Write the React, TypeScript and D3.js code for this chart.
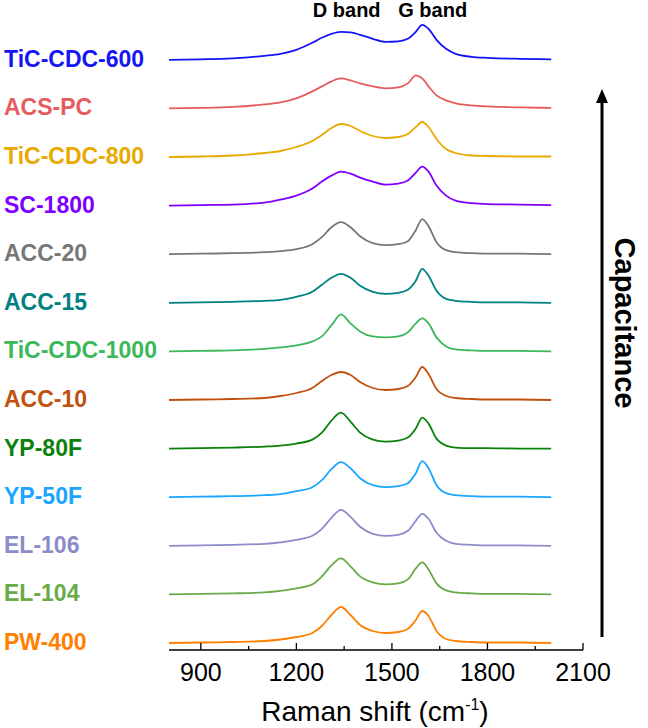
import React, { useRef, useEffect } from 'react';
import * as d3 from 'd3';

// Raman shift grid (cm-1) shared by all spectra
const shifts = [800, 900, 1000, 1100, 1150, 1200, 1250, 1280, 1310, 1340, 1370, 1400, 1440, 1480, 1520, 1550, 1575, 1595, 1615, 1640, 1670, 1700, 1750, 1800, 1900, 2000];

// samples listed top to bottom as in the figure
const samples = ['TiC-CDC-600', 'ACS-PC', 'TiC-CDC-800', 'SC-1800', 'ACC-20', 'ACC-15', 'TiC-CDC-1000', 'ACC-10', 'YP-80F', 'YP-50F', 'EL-106', 'EL-104', 'PW-400'];
const colors = ['#1414f5', '#e65c5c', '#e8a900', '#8000ff', '#777777', '#008080', '#3cb85a', '#c0500c', '#0a820a', '#1aa6ff', '#8c8cc8', '#68ab48', '#ff8000'];

// intensities (a.u.), one array per sample
const tic600 = [0, 0.5, 1.5, 4, 6, 10, 17, 22, 26, 28, 27.5, 25, 21, 18, 18.5, 21, 28, 35, 31, 20, 11, 6, 3, 2, 1, 0.5];
const acsPC = [0, 0.5, 1.5, 4, 6, 10, 17, 22, 27, 30, 28, 25, 22, 20, 21, 25, 33, 30, 22, 13, 8, 5, 3, 2, 1, 0.5];
const tic800 = [0, 0.5, 1.5, 4, 6, 10, 16, 22, 29, 33, 31, 26, 21, 19, 20, 23, 30, 35, 30, 18, 8, 4, 1.5, 1, 0.5, 0.5];
const sc1800 = [0, 0.5, 1, 3, 6, 10, 17, 24, 30, 34, 32, 28, 24, 21, 22, 25, 33, 39, 34, 20, 10, 5, 2.5, 1.5, 1, 0.5];
const acc20 = [0, 0.5, 1, 2, 3, 5, 10, 17, 27, 32, 27, 18, 11, 9, 10, 13, 24, 35, 28, 12, 4, 2, 1, 0.5, 0.5, 0];
const acc15 = [0, 0.5, 1, 2, 3, 6, 11, 18, 25, 29, 25, 17, 11, 9, 10, 13, 22, 34, 27, 12, 4, 2, 1, 0.5, 0.5, 0];
const tic1000 = [0, 0.5, 1, 2.5, 4, 6, 10, 15, 26, 37, 28, 20, 15, 14, 15, 19, 28, 33, 28, 14, 5, 2, 1, 0.5, 0.5, 0];
const acc10 = [0, 0.5, 1, 2, 4, 7, 12, 19, 25, 28, 25, 18, 12, 10, 11, 14, 23, 33, 26, 11, 4, 2, 1, 0.5, 0.5, 0];
const yp80f = [0, 0.5, 1, 2, 3, 5, 9, 16, 28, 36, 27, 16, 9, 7, 8, 11, 20, 31, 25, 10, 3, 1, 0.5, 0.5, 0, 0];
const yp50f = [0, 0.5, 1, 2, 3, 6, 10, 17, 28, 35, 29, 19, 12, 10, 11, 14, 24, 36, 29, 12, 4, 2, 1, 0.5, 0.5, 0];
const el106 = [0, 0.5, 1, 2, 3.5, 6, 10, 17, 28, 36, 29, 19, 12, 10, 11, 15, 25, 32, 27, 13, 5, 2, 1, 0.5, 0.5, 0];
const el104 = [0, 0.5, 1, 2, 3.5, 6, 10, 18, 29, 36, 28, 18, 12, 10, 11, 15, 26, 32, 25, 11, 4, 2, 1, 0.5, 0.5, 0];
const pw400 = [0, 0.5, 1, 2, 3.5, 6, 10, 17, 28, 36, 28, 18, 12, 10, 11, 14, 23, 32, 27, 12, 4, 2, 1, 0.5, 0.5, 0];
const spectra = [tic600, acsPC, tic800, sc1800, acc20, acc15, tic1000, acc10, yp80f, yp50f, el106, el104, pw400];

const majorTicks = [900, 1200, 1500, 1800, 2100];
const minorTicks = [1050, 1350, 1650, 1950];
const offsetStep = 48.6;

const App = () => {
  const ref = useRef<SVGSVGElement>(null);

  useEffect(() => {
    const svg = d3.select(ref.current);
    svg.selectAll('*').remove();
    const font = 'Liberation Sans, Arial, sans-serif';

    const x = d3.scaleLinear().domain([800, 2100]).range([169, 583]);
    const y = d3.scaleLinear().domain([0, 600]).range([643, 43]);
    const axisY = 650;

    // spectra, stacked with a constant offset
    spectra.forEach((vals, i) => {
      const off = (samples.length - 1 - i) * offsetStep;
      const line = d3.line<number>()
        .x((_, j) => x(shifts[j]))
        .y(v => y(v + off))
        .curve(d3.curveMonotoneX);
      svg.append('path')
        .datum(vals)
        .attr('fill', 'none')
        .attr('stroke', colors[i])
        .attr('stroke-width', 1.8)
        .attr('d', line);

      svg.append('text')
        .attr('x', 4)
        .attr('y', y(off) + 1)
        .attr('dominant-baseline', 'middle')
        .attr('font-family', font)
        .attr('font-weight', 'bold')
        .attr('font-size', 23)
        .attr('fill', colors[i])
        .text(samples[i]);
    });

    // x axis with inward ticks
    const g = svg.append('g');
    g.append('line')
      .attr('x1', x(800)).attr('x2', x(2100))
      .attr('y1', axisY).attr('y2', axisY)
      .attr('stroke', '#000').attr('stroke-width', 1.5);
    g.selectAll('.major').data(majorTicks).enter().append('line')
      .attr('x1', d => x(d)).attr('x2', d => x(d))
      .attr('y1', axisY).attr('y2', axisY - 7)
      .attr('stroke', '#000').attr('stroke-width', 1.3);
    g.selectAll('.minor').data(minorTicks).enter().append('line')
      .attr('x1', d => x(d)).attr('x2', d => x(d))
      .attr('y1', axisY).attr('y2', axisY - 4)
      .attr('stroke', '#000').attr('stroke-width', 1.3);
    g.selectAll('.lbl').data(majorTicks).enter().append('text')
      .attr('x', d => x(d))
      .attr('y', 681)
      .attr('text-anchor', 'middle')
      .attr('font-family', font)
      .attr('font-size', 25)
      .attr('fill', '#000')
      .text(d => d);

    const title = svg.append('text')
      .attr('x', 375)
      .attr('y', 721)
      .attr('text-anchor', 'middle')
      .attr('font-family', font)
      .attr('font-size', 28)
      .attr('fill', '#000');
    title.append('tspan').text('Raman shift (cm');
    title.append('tspan').attr('font-size', 16).attr('dy', -11).text('-1');
    title.append('tspan').attr('dy', 11).text(')');

    // band labels
    svg.append('text')
      .attr('x', x(1358)).attr('y', 17)
      .attr('text-anchor', 'middle')
      .attr('font-family', font).attr('font-weight', 'bold').attr('font-size', 20)
      .text('D band');
    svg.append('text')
      .attr('x', x(1628)).attr('y', 17)
      .attr('text-anchor', 'middle')
      .attr('font-family', font).attr('font-weight', 'bold').attr('font-size', 20)
      .text('G band');

    // capacitance arrow
    svg.append('line')
      .attr('x1', 602).attr('x2', 602)
      .attr('y1', 637).attr('y2', 100)
      .attr('stroke', '#000').attr('stroke-width', 3);
    svg.append('path')
      .attr('d', 'M602,89 L596,103 L608,103 Z')
      .attr('fill', '#000');
    svg.append('text')
      .attr('transform', 'translate(615,323) rotate(90)')
      .attr('text-anchor', 'middle')
      .attr('font-family', font).attr('font-weight', 'bold').attr('font-size', 29)
      .text('Capacitance');
  }, []);

  return (
    <div style={{ position: 'absolute', left: 0, top: 0 }}>
      <svg ref={ref} width={648} height={728}></svg>
    </div>
  );
};

export default App;
